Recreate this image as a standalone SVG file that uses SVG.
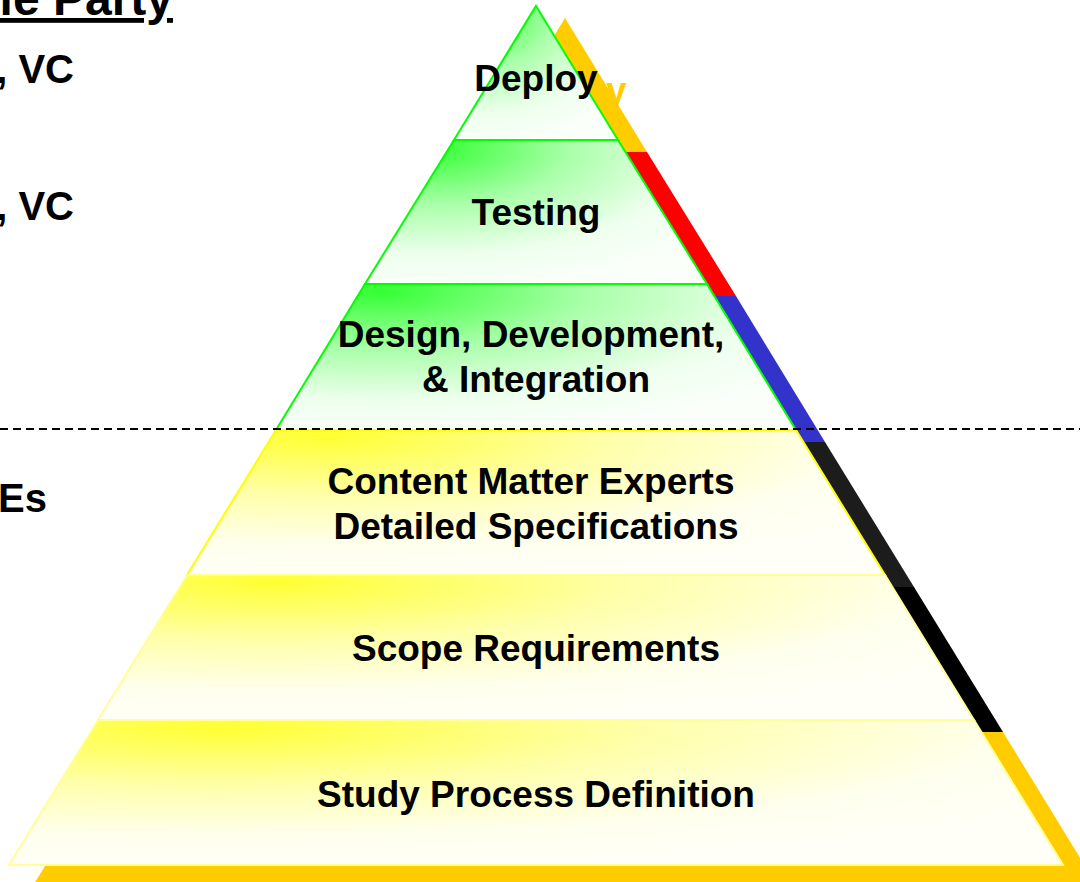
<svg xmlns="http://www.w3.org/2000/svg" xmlns:xlink="http://www.w3.org/1999/xlink" width="1080" height="882" viewBox="0 0 1080 882">
<style>
.lbl{font-family:"Liberation Sans",Arial,sans-serif;font-weight:bold;font-size:37px;fill:#000;text-anchor:middle}
.side{font-family:"Liberation Sans",Arial,sans-serif;font-weight:bold;font-size:40px;fill:#000;text-anchor:end}
.g{fill:url(#gg);stroke:#00FF00;stroke-width:2;stroke-linejoin:miter}
.y1{fill:url(#gy);stroke:#FFFF00;stroke-width:2}
.y2{fill:url(#gy);stroke:#FFFF99;stroke-width:2}
</style>
<defs>
<radialGradient id="gg" cx="0.2" cy="0.05" r="1" fx="0.2" fy="0.05">
<stop offset="0" stop-color="#33FF33"/>
<stop offset="0.4" stop-color="#AAFFAA"/>
<stop offset="0.75" stop-color="#EEFFEE"/>
<stop offset="1" stop-color="#FAFFFA"/>
</radialGradient>
<radialGradient id="gy" cx="0.2" cy="0.05" r="1" fx="0.2" fy="0.05">
<stop offset="0" stop-color="#FFFF33"/>
<stop offset="0.4" stop-color="#FFFFAA"/>
<stop offset="0.75" stop-color="#FFFFEE"/>
<stop offset="1" stop-color="#FFFFF8"/>
</radialGradient>
<polygon id="p1" points="536,6 618,140 454,140"/>
<polygon id="p2" points="454,140 618,140 707,284 365,284"/>
<polygon id="p3" points="365,284 707,284 796,430 276,430"/>
<polygon id="p4" points="276,430 796,430 885,575 187,575"/>
<polygon id="p5" points="187,575 885,575 974,720 98,720"/>
<polygon id="p6" points="98,720 974,720 1063,865 9,865"/>
</defs>

<g id="shadow">
<g transform="translate(29,12)">
<use xlink:href="#p1" fill="#FFCC00"/>
<use xlink:href="#p2" fill="#FF0000"/>
<use xlink:href="#p3" fill="#3333CC"/>
<use xlink:href="#p4" fill="#1C1C1C"/>
<use xlink:href="#p5" fill="#000000"/>
<text class="lbl" x="536" y="91" style="fill:#FFCC00">Deploy</text>
</g>
<polygon points="127,732 1003,732 1096,884 34,884" fill="#FFCC00"/>
</g>

<g id="deploy">
<use xlink:href="#p1" class="g"/>
<text class="lbl" x="536" y="91">Deploy</text>
</g>
<g id="testing">
<use xlink:href="#p2" class="g"/>
<text class="lbl" x="536" y="225">Testing</text>
</g>
<g id="design">
<use xlink:href="#p3" class="g"/>
<text class="lbl" x="531" y="347">Design, Development,</text>
<text class="lbl" x="536" y="392">&amp; Integration</text>
</g>
<g id="content">
<use xlink:href="#p4" class="y1"/>
<text class="lbl" x="531" y="494">Content Matter Experts</text>
<text class="lbl" x="536" y="539">Detailed Specifications</text>
</g>
<g id="scope">
<use xlink:href="#p5" class="y2"/>
<text class="lbl" x="536" y="661">Scope Requirements</text>
</g>
<g id="study">
<use xlink:href="#p6" class="y2"/>
<text class="lbl" x="536" y="807">Study Process Definition</text>
</g>

<g id="connectors">
<line x1="0" y1="429" x2="1080" y2="429" stroke="#000" stroke-width="2" stroke-dasharray="8 5"/>
</g>

<g id="left-labels">
<text class="side" x="173" y="15" style="font-size:48px;text-decoration:underline">le Party</text>
<text class="side" x="74" y="83">, VC</text>
<text class="side" x="74" y="220">, VC</text>
<text class="side" x="47" y="512">Es</text>
</g>
</svg>
